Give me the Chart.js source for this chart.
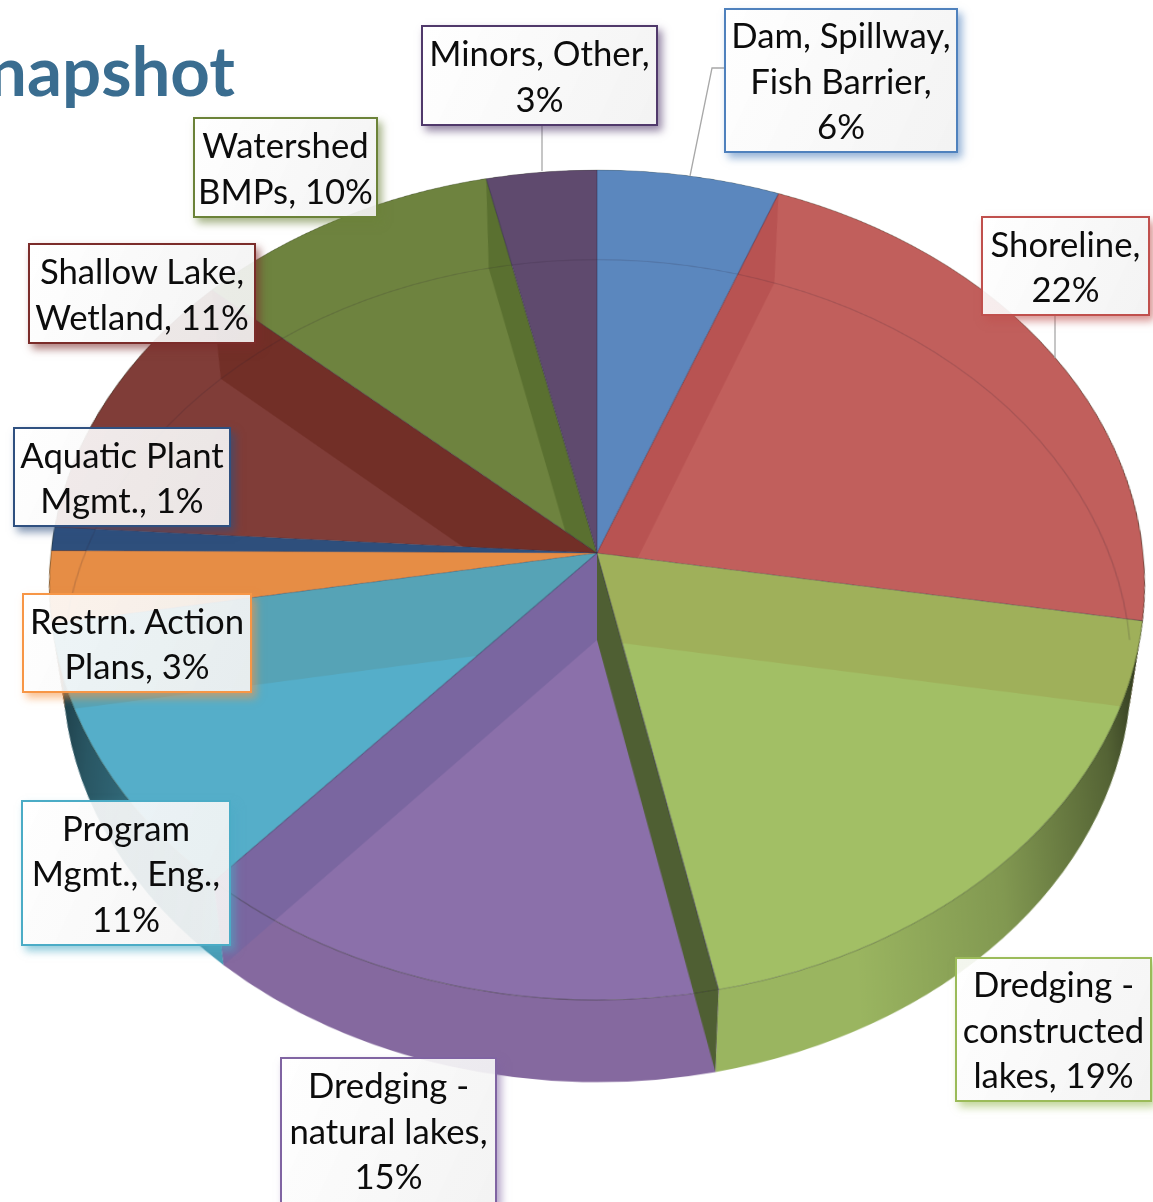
<!DOCTYPE html>
<html>
<head>
<meta charset="utf-8">
<title>Snapshot</title>
<script src="https://cdn.jsdelivr.net/npm/chart.js@4"></script>
<style>
    html, body { margin: 0; padding: 0; background: #fff; overflow: hidden; width: 1153px; height: 1202px; }
    #page { position: relative; width: 1153px; height: 1202px; overflow: hidden; font-family: Lato, sans-serif; }
    #pie { position: absolute; left: -53px; top: -97px; transform-origin: 650px 650px; }
    #leaders { position: absolute; left: 0; top: 0; }
    #title { position: absolute; left: -12px; top: 27px; font-size: 69px; line-height: 86px; font-weight: 700; color: #3a6d90; white-space: nowrap; }
    .tag { position: absolute; box-sizing: border-box; display: flex; flex-direction: column; justify-content: center;
           text-align: center; font-size: 34.7px; line-height: 45.5px; color: #0c0c0c; white-space: nowrap;
           background: linear-gradient(115deg, rgba(255,255,255,.9), rgba(242,242,242,.93)); }
</style>
</head>
<body>
<div id="page">
    <canvas id="pie" width="1300" height="1300"></canvas>
    <svg id="leaders" width="1153" height="1202"></svg>
    <div id="title">napshot</div>
</div>
<script>
// slices, clockwise from 12 o'clock. shares, the printed % are rounded
const categories = ['Dam, Spillway, Fish Barrier', 'Shoreline', 'Dredging - constructed lakes', 'Dredging - natural lakes',
    'Program Mgmt., Eng.', 'Restrn. Action Plans', 'Aquatic Plant Mgmt.', 'Shallow Lake, Wetland', 'Watershed BMPs', 'Minors, Other'];
const shares = [5.8, 21.8, 19.1, 14.8, 10.8, 2.8, 0.9, 10.7, 9.8, 3.5];
const tagLines = [
    ['Dam, Spillway,', 'Fish Barrier,', '6%'],
    ['Shoreline,', '22%'],
    ['Dredging -', 'constructed', 'lakes, 19%'],
    ['Dredging -', 'natural lakes,', '15%'],
    ['Program', 'Mgmt., Eng.,', '11%'],
    ['Restrn. Action', 'Plans, 3%'],
    ['Aquatic Plant', 'Mgmt., 1%'],
    ['Shallow Lake,', 'Wetland, 11%'],
    ['Watershed', 'BMPs, 10%'],
    ['Minors, Other,', '3%']
];

const faceColors = ['#5b87be', '#c15f5c', '#a2bf65', '#8b70aa', '#55aec9', '#e68d45', '#2e4f7c', '#803d38', '#6e833f', '#5f4a6e'];
const rimColors = ['#5b87be', '#c15f5c', '#9ab560', '#85699f', '#4a9cb4', '#e68d45', '#2e4f7c', '#803d38', '#6e833f', '#5f4a6e'];
const wallColors = ['#b85352', '#9fb05a', '#4f5f33', '#7a66a0', '#56a3b6', null, null, '#722f27', '#5a7030', null];
const tagBorders = ['#4f81bd', '#c0504d', '#9bbb59', '#8064a2', '#4bacc6', '#f79646', '#2f5080', '#7b2c2a', '#6b8238', '#50396b'];
// left, top, right, bottom of each label box
const tagBoxes = [
    [724, 8, 958, 153], [981, 216, 1150, 316], [955, 957, 1152, 1102], [280, 1057, 497, 1204], [21, 800, 231, 946],
    [22, 593, 252, 693], [13, 427, 231, 527], [28, 243, 256, 344], [193, 117, 378, 218], [421, 25, 658, 126]
];
const leaderLines = ['690,176 712,68 724,68', '542,125 542,171', '1055,315 1055,358'];

// the page shows the pie in perspective, so the flat chart canvas gets a projective css transform
const RADIUS = 547;
const SQUASH = 412.5 / RADIUS, WIDEN = 546 / RADIUS, TILT = -0.0771 / RADIUS;
// bottom face of the disc, expressed in canvas space
const DROP = 0.2075, SHRINK = 0.04;

const canvas = document.getElementById('pie');
canvas.style.transform = `matrix3d(${WIDEN},0,0,0, 0,${SQUASH},0,${TILT}, 0,0,1,0, 0,0,0,1)`;

function bottomOf(arc) {
    return { x: arc.x, y: arc.y + arc.outerRadius * DROP, r: arc.outerRadius * (1 - SHRINK) };
}

// inner wall under the end edge of slice i, kept to the slice that lies below that edge
function drawWall(ctx, arcs, i) {
    const arc = arcs[i];
    const a = arc.endAngle;
    const owner = Math.cos(a) > 0 ? arcs[(i + 1) % arcs.length] : arc;
    const low = bottomOf(arc);
    ctx.save();
    ctx.beginPath();
    ctx.moveTo(arc.x, arc.y);
    ctx.arc(arc.x, arc.y, arc.outerRadius * 1.5, owner.startAngle, owner.endAngle);
    ctx.closePath();
    ctx.clip();
    ctx.beginPath();
    ctx.moveTo(arc.x, arc.y);
    ctx.lineTo(arc.x + arc.outerRadius * Math.cos(a), arc.y + arc.outerRadius * Math.sin(a));
    ctx.lineTo(low.x + low.r * Math.cos(a), low.y + low.r * Math.sin(a));
    ctx.lineTo(low.x, low.y);
    ctx.closePath();
    ctx.fillStyle = wallColors[i];
    ctx.fill();
    ctx.restore();
}

const discPlugin = {
    id: 'disc',
    beforeDatasetsDraw(chart) {
        const ctx = chart.ctx;
        const arcs = chart.getDatasetMeta(0).data;
        const left = arcs[0].x - arcs[0].outerRadius;
        const shade = ctx.createLinearGradient(left, 0, left + arcs[0].outerRadius * 2, 0);
        shade.addColorStop(0, 'rgba(0,0,0,.7)');
        shade.addColorStop(0.05, 'rgba(0,0,0,.45)');
        shade.addColorStop(0.16, 'rgba(0,0,0,.12)');
        shade.addColorStop(0.17, 'rgba(0,0,0,0)');
        shade.addColorStop(0.72, 'rgba(0,0,0,0)');
        shade.addColorStop(0.85, 'rgba(0,0,0,.16)');
        shade.addColorStop(0.95, 'rgba(0,0,0,.45)');
        shade.addColorStop(1, 'rgba(0,0,0,.78)');

        ctx.save();
        arcs.forEach((arc, i) => {
            const low = bottomOf(arc);
            ctx.beginPath();
            ctx.arc(arc.x, arc.y, arc.outerRadius, arc.startAngle, arc.endAngle);
            ctx.arc(low.x, low.y, low.r, arc.endAngle, arc.startAngle, true);
            ctx.closePath();
            ctx.fillStyle = rimColors[i];
            ctx.fill();
            ctx.fillStyle = shade;
            ctx.fill();
        });
        ctx.restore();

        // walls facing the viewer stick out past the top face
        arcs.forEach((arc, i) => {
            if (wallColors[i] && Math.sin(arc.endAngle) > 0.5) drawWall(ctx, arcs, i);
        });
    },
    afterDatasetsDraw(chart) {
        const ctx = chart.ctx;
        const arcs = chart.getDatasetMeta(0).data;
        const first = arcs[0];
        const low = bottomOf(first);

        ctx.save();
        ctx.beginPath();
        ctx.arc(first.x, first.y, first.outerRadius, 0, Math.PI * 2);
        ctx.clip();
        arcs.forEach((arc, i) => {
            if (wallColors[i]) drawWall(ctx, arcs, i);
        });
        // back edge of the bottom face shows faintly through the top
        ctx.beginPath();
        ctx.arc(low.x, low.y, low.r, Math.PI, Math.PI * 2);
        ctx.strokeStyle = 'rgba(40,30,50,.17)';
        ctx.lineWidth = 1.5;
        ctx.stroke();
        ctx.restore();

        // slice edges and outline
        ctx.save();
        ctx.lineWidth = 1.2;
        arcs.forEach(arc => {
            ctx.beginPath();
            ctx.moveTo(arc.x, arc.y);
            ctx.lineTo(arc.x + arc.outerRadius * Math.cos(arc.startAngle), arc.y + arc.outerRadius * Math.sin(arc.startAngle));
            ctx.strokeStyle = 'rgba(40,40,70,.38)';
            ctx.stroke();
            ctx.beginPath();
            ctx.arc(arc.x, arc.y, arc.outerRadius, arc.startAngle, arc.endAngle);
            ctx.strokeStyle = 'rgba(30,40,20,.32)';
            ctx.stroke();
        });
        ctx.restore();
    }
};

new Chart(canvas.getContext('2d'), {
    type: 'pie',
    data: {
        labels: categories,
        datasets: [{
            data: shares,
            backgroundColor: faceColors,
            borderWidth: 0,
            hoverOffset: 0
        }]
    },
    options: {
        responsive: false,
        animation: false,
        events: [],
        layout: { padding: 650 - RADIUS },
        plugins: { legend: { display: false }, tooltip: { enabled: false } }
    },
    plugins: [discPlugin]
});

// leader lines and label boxes sit on top of the transformed canvas
const page = document.getElementById('page');
const leaders = document.getElementById('leaders');
leaderLines.forEach(points => {
    const line = document.createElementNS('http://www.w3.org/2000/svg', 'polyline');
    line.setAttribute('points', points);
    line.setAttribute('fill', 'none');
    line.setAttribute('stroke', '#a8a8a8');
    line.setAttribute('stroke-width', '1.3');
    leaders.appendChild(line);
});
tagLines.forEach((lines, i) => {
    const [l, t, r, b] = tagBoxes[i];
    const tag = document.createElement('div');
    tag.className = 'tag';
    tag.style.left = l + 'px';
    tag.style.top = t + 'px';
    tag.style.width = (r - l) + 'px';
    tag.style.height = (b - t) + 'px';
    tag.style.border = '2.5px solid ' + tagBorders[i];
    tag.style.boxShadow = '4px 5px 8px ' + tagBorders[i] + '99';
    lines.forEach(text => {
        const row = document.createElement('div');
        row.textContent = text;
        tag.appendChild(row);
    });
    page.appendChild(tag);
});
</script>
</body>
</html>
